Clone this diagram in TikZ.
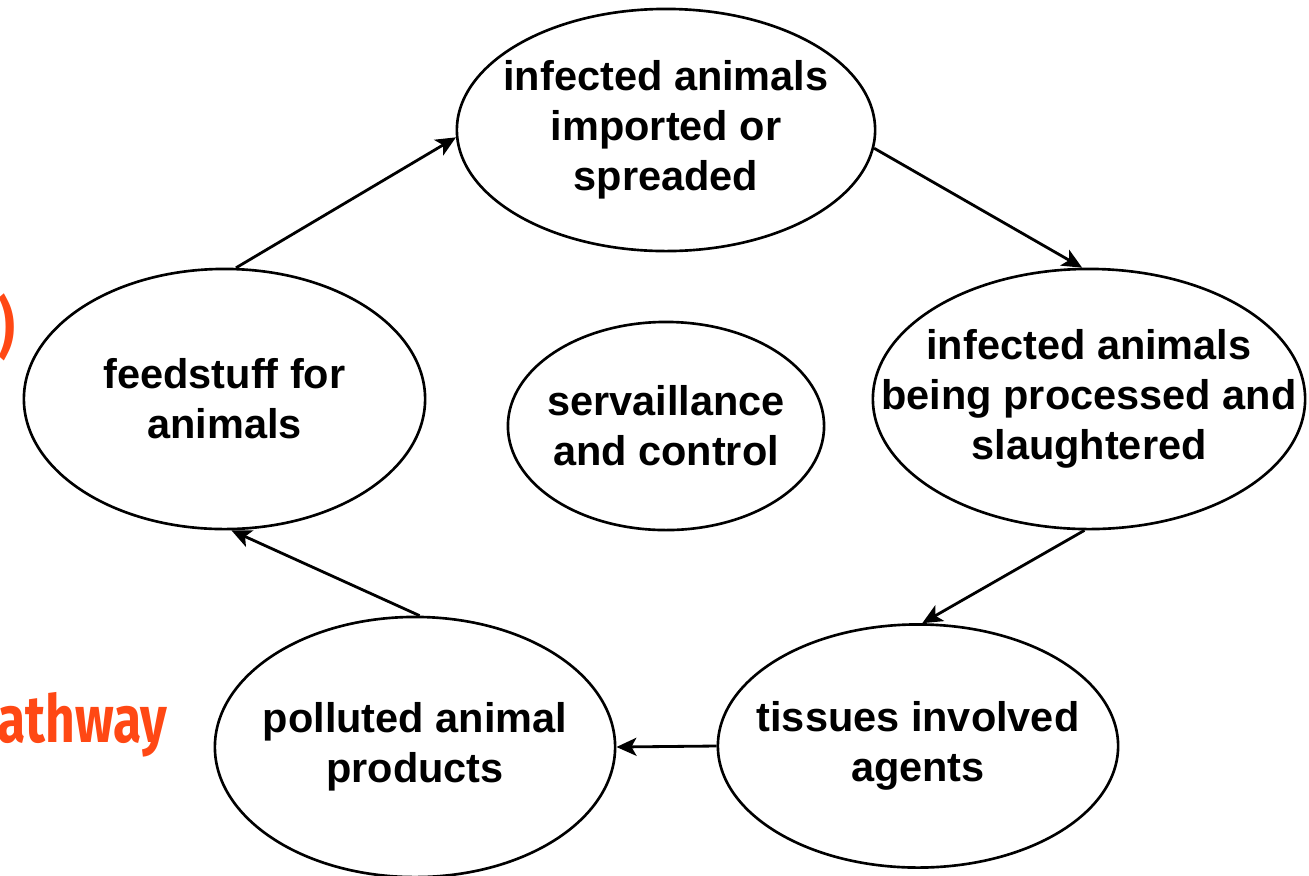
\documentclass[tikz,border=0pt]{standalone}
\usepackage{fontspec}
\setmainfont{Liberation Sans}
\newfontfamily\notefont[FakeStretch=0.78]{Fira Sans}
\usepackage{xcolor}
\usepackage{tikz}
\usetikzlibrary{
  arrows.meta,
  shapes.geometric
}
\definecolor{pathorange}{RGB}{255,72,20}
\definecolor{cycleblack}{RGB}{0,0,0}
\tikzset{
  stagebox/.style={
    ellipse,
    draw=cycleblack,
    line width=0.75pt,
    align=center,
    inner sep=-3cm,
    font=\fontsize{11.8pt}{14.2pt}\selectfont\bfseries
  },
  cyclearrow/.style={-{Stealth[length=2mm,width=1.8mm,inset=0.5mm]},line width=0.8pt,draw=cycleblack},
  notetext/.style={text=pathorange,inner sep=0pt,font=\notefont\fontsize{18.8pt}{20pt}\selectfont\bfseries},
}

\begin{document}
\begin{tikzpicture}[x=0.01cm,y=-0.01cm]
  \useasboundingbox (0,0) rectangle (1309,875);
  \node[stagebox,minimum width=4.18cm,minimum height=2.42cm] (imported) at (666,130) {
    infected animals\\imported or\\spreaded
  };
  \node[stagebox,minimum width=4.32cm,minimum height=2.60cm] (processed) at (1089,399) {
    infected animals\\being processed and\\slaughtered
  };
  \node[stagebox,minimum width=4.00cm,minimum height=2.43cm] (tissues) at (918,746) {
    tissues involved\\agents
  };
  \node[stagebox,minimum width=4.00cm,minimum height=2.60cm] (products) at (415,747) {
    polluted animal\\products
  };
  \node[stagebox,minimum width=4.01cm,minimum height=2.60cm] (feedstuff) at (224.5,399) {
    feedstuff for\\animals
  };
  \node[stagebox,minimum width=3.16cm,minimum height=2.08cm] (control) at (666,426) {
    servaillance\\and control
  };
  \node[notetext,anchor=base east] (noteparen) at (16,350) {)};
  \node[notetext,anchor=base east] (notepath) at (168,742) {athway};
  \draw[cyclearrow] (feedstuff.85) -- (imported.182);
  \draw[cyclearrow] (imported.-5) -- (processed.93);
  \draw[cyclearrow] (processed.-92) -- (tissues.88);
  \draw[cyclearrow] (tissues.west) -- (products.east);
  \draw[cyclearrow] (products.88) -- (feedstuff.-87);
\end{tikzpicture}
\end{document}
